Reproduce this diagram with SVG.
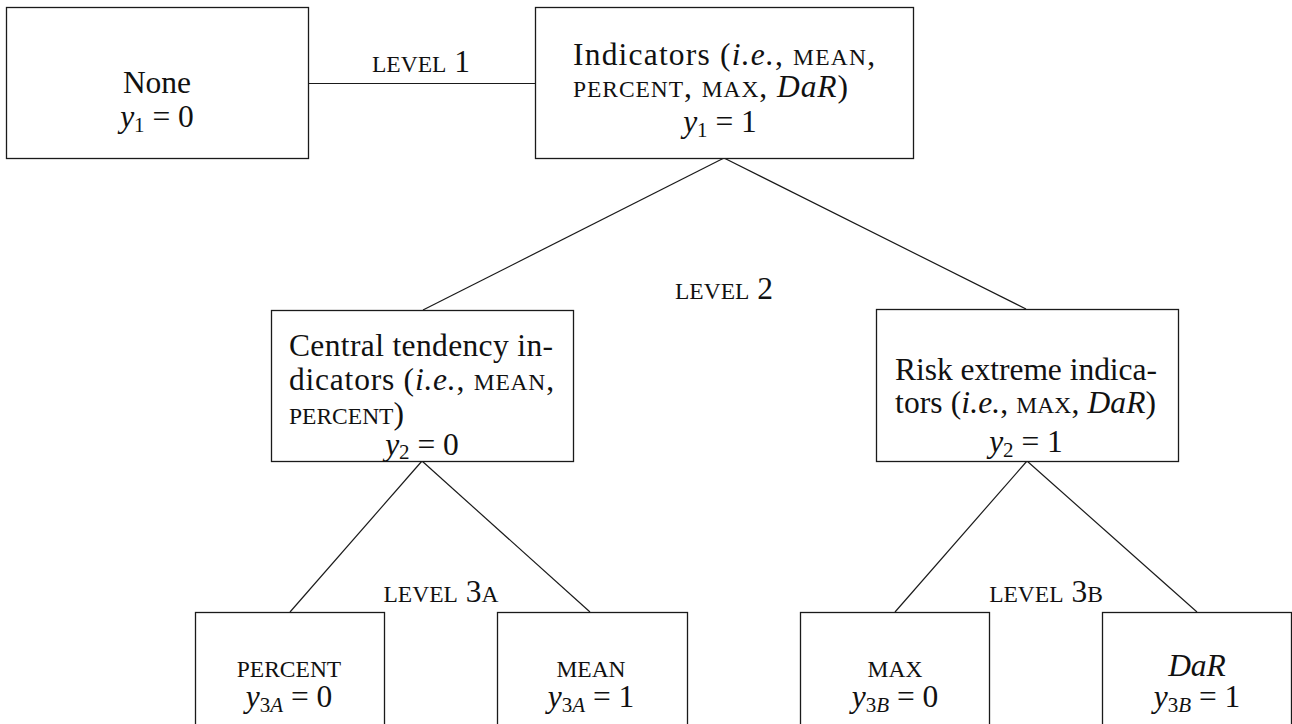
<svg xmlns="http://www.w3.org/2000/svg" width="1292" height="724" viewBox="0 0 1292 724">
<style>
  .box { fill: #fff; stroke: #1a1a1a; stroke-width: 1.3; }
  .edge { stroke: #1a1a1a; stroke-width: 1.2; fill: none; }
  text { font-family: "Liberation Serif", "Times New Roman", serif; font-size: 31.5px; fill: #111; }
  .c { text-anchor: middle; }
  text.sc, .sc { font-size: 23.5px; }
  .it { font-style: italic; }
  .sub { font-size: 21px; }
</style>
<rect width="1292" height="724" fill="#fff"/>
<g id="connectors">
  <line class="edge" x1="308" y1="83.5" x2="535" y2="83.5"/>
  <line class="edge" x1="724" y1="158" x2="423" y2="310"/>
  <line class="edge" x1="724" y1="158" x2="1026" y2="309"/>
  <line class="edge" x1="422" y1="461" x2="290" y2="612"/>
  <line class="edge" x1="422" y1="461" x2="590" y2="612"/>
  <line class="edge" x1="1027" y1="461" x2="895" y2="612"/>
  <line class="edge" x1="1027" y1="461" x2="1197" y2="612"/>
</g>
<g id="labels">
  <text class="c" x="421" y="72"><tspan class="sc">LEVEL</tspan> 1</text>
  <text class="c" x="724" y="299"><tspan class="sc">LEVEL</tspan> 2</text>
  <text class="c" x="441" y="602"><tspan class="sc">LEVEL</tspan> 3<tspan class="sc">A</tspan></text>
  <text class="c" x="1046" y="602"><tspan class="sc">LEVEL</tspan> 3<tspan class="sc">B</tspan></text>
</g>
<g id="node-none">
  <rect class="box" x="6.5" y="7.5" width="302" height="151"/>
  <text class="c" x="157" y="93">None</text>
  <text class="c" x="157" y="127"><tspan class="it">y</tspan><tspan class="sub" dy="5">1</tspan><tspan dy="-5"> = 0</tspan></text>
</g>
<g id="node-indicators">
  <rect class="box" x="535.5" y="7.5" width="378" height="151"/>
  <text x="573" y="65" textLength="302" lengthAdjust="spacing">Indicators (<tspan class="it">i.e.</tspan>, <tspan class="sc">MEAN</tspan>,</text>
  <text x="573" y="97" textLength="275" lengthAdjust="spacing"><tspan class="sc">PERCENT</tspan>, <tspan class="sc">MAX</tspan>, <tspan class="it">DaR</tspan>)</text>
  <text class="c" x="720" y="132"><tspan class="it">y</tspan><tspan class="sub" dy="5">1</tspan><tspan dy="-5"> = 1</tspan></text>
</g>
<g id="node-central">
  <rect class="box" x="271.5" y="310.5" width="302" height="151"/>
  <text x="289" y="356" textLength="264" lengthAdjust="spacing">Central tendency in-</text>
  <text x="289" y="390" textLength="265" lengthAdjust="spacing">dicators (<tspan class="it">i.e.</tspan>, <tspan class="sc">MEAN</tspan>,</text>
  <text x="289" y="424"><tspan class="sc">PERCENT</tspan>)</text>
  <text class="c" x="422" y="455"><tspan class="it">y</tspan><tspan class="sub" dy="4">2</tspan><tspan dy="-4"> = 0</tspan></text>
</g>
<g id="node-risk">
  <rect class="box" x="876.5" y="309.5" width="302" height="152"/>
  <text x="895" y="380" textLength="262" lengthAdjust="spacing">Risk extreme indica-</text>
  <text x="895" y="413" textLength="261" lengthAdjust="spacing">tors (<tspan class="it">i.e.</tspan>, <tspan class="sc">MAX</tspan>, <tspan class="it">DaR</tspan>)</text>
  <text class="c" x="1026" y="452"><tspan class="it">y</tspan><tspan class="sub" dy="5">2</tspan><tspan dy="-5"> = 1</tspan></text>
</g>
<g id="node-percent">
  <rect class="box" x="195.5" y="612.5" width="189" height="200"/>
  <text class="c sc" x="289" y="677">PERCENT</text>
  <text class="c" x="289" y="707"><tspan class="it">y</tspan><tspan class="sub" dy="5">3<tspan class="it">A</tspan></tspan><tspan dy="-5"> = 0</tspan></text>
</g>
<g id="node-mean">
  <rect class="box" x="497.5" y="612.5" width="190" height="200"/>
  <text class="c sc" x="591" y="677">MEAN</text>
  <text class="c" x="591" y="707"><tspan class="it">y</tspan><tspan class="sub" dy="5">3<tspan class="it">A</tspan></tspan><tspan dy="-5"> = 1</tspan></text>
</g>
<g id="node-max">
  <rect class="box" x="800.5" y="612.5" width="189" height="200"/>
  <text class="c sc" x="895" y="677">MAX</text>
  <text class="c" x="895" y="707"><tspan class="it">y</tspan><tspan class="sub" dy="5">3<tspan class="it">B</tspan></tspan><tspan dy="-5"> = 0</tspan></text>
</g>
<g id="node-dar">
  <rect class="box" x="1102.5" y="612.5" width="189" height="200"/>
  <text class="c it" x="1197" y="676">DaR</text>
  <text class="c" x="1197" y="707"><tspan class="it">y</tspan><tspan class="sub" dy="5">3<tspan class="it">B</tspan></tspan><tspan dy="-5"> = 1</tspan></text>
</g>
</svg>
